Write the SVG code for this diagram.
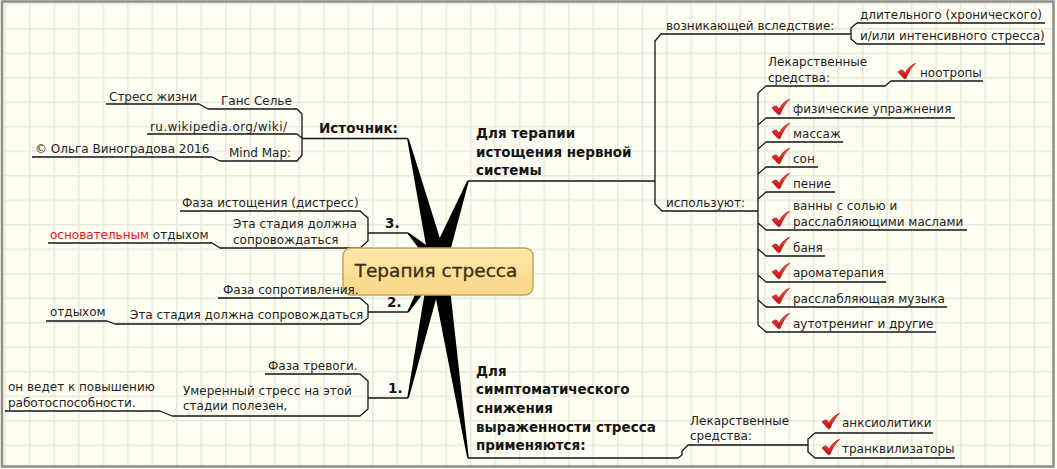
<svg xmlns="http://www.w3.org/2000/svg" width="1057" height="469" viewBox="0 0 1057 469">
<style>
.t{font-family:"DejaVu Sans","Liberation Sans",sans-serif;font-size:12px;fill:#1e1e1e}
.b{font-family:"DejaVu Sans","Liberation Sans",sans-serif;font-size:13.5px;font-weight:bold;fill:#141414}
.red{fill:#d8201c}
.ln{fill:none;stroke:#141414;stroke-width:1.3;stroke-linejoin:round}
.wd{fill:#000}
</style>
<defs>
<pattern id="grid" x="4.5" y="3.5" width="24.5" height="24.5" patternUnits="userSpaceOnUse">
<rect width="24.5" height="24.5" fill="#fefef3"/>
<path d="M0,0.75H24.5M0.75,0V24.5" stroke="#e8e8dc" stroke-width="1.5"/>
</pattern>
<linearGradient id="cg" x1="0" y1="0" x2="0" y2="1">
<stop offset="0" stop-color="#ff5a50"/>
<stop offset="1" stop-color="#c40808"/>
</linearGradient>
<linearGradient id="ng" x1="0" y1="0" x2="0" y2="1">
<stop offset="0" stop-color="#fde7a8"/>
<stop offset="1" stop-color="#f9d887"/>
</linearGradient>
<g id="chk">
<path d="M0,9C1.8,7.2 3.6,6.6 4.8,7.2L7,10.2C9.4,5.6 13,2 17.5,0.3C14.2,3.6 10.6,8.8 8,15.3C7.4,15.9 6.2,15.9 5.6,15.1Z" fill="url(#cg)" stroke="#900" stroke-width="0.6"/>
</g>
</defs>
<rect x="0" y="0" width="1057" height="469" fill="#fefef3"/>
<rect x="2" y="1.5" width="1051.5" height="465" fill="url(#grid)" stroke="#8e8e86" stroke-width="2.5"/>

<g id="connectors">
<polygon class="wd" points="407.2,139.2 408.8,138.8 446.7,259.9 429.3,264.1"/>
<polygon class="wd" points="467.25,180.7 468.75,181.3 446.4,265.1 429.6,258.9"/>
<polygon class="wd" points="467.2,458.1 468.8,457.9 446.9,260.6 429.1,263.4"/>
<polygon class="wd" points="407.44,233.58 408.56,232.42 442.9,257 433.1,267"/>
<polygon class="wd" points="407.31,311.59 408.69,312.41 444,265.6 432,258.4"/>
<polygon class="wd" points="407.22,397.83 408.78,398.17 445.8,263.7 430.2,260.3"/>
<path class="ln" d="M302,138.5H408"/>
<path class="ln" d="M106,104H199L208,109H297L302,114V155L297,161H220L212,157H32"/>
<path class="ln" d="M147,134H297L302,138"/>
<path class="ln" d="M180,211H360L368,218V241L360,248H220L212,243H48"/>
<path class="ln" d="M368,233H408"/>
<path class="ln" d="M218,298H360L368,305V318L360,324H115L107,321H46"/>
<path class="ln" d="M368,312H408"/>
<path class="ln" d="M265,374H360L368,381V409L360,416H172L160,411H5"/>
<path class="ln" d="M368,398H408"/>
<path class="ln" d="M468,181H655"/>
<path class="ln" d="M851,34H661L655,41V204L662,211H758"/>
<path class="ln" d="M857,23L851,28V39L857,44"/>
<path class="ln" d="M857,23H1045M857,44H1045"/>
<path class="ln" d="M758,93V325"/>
<path class="ln" d="M758,93L766,86H877L885,86L891,81H983"/>
<path class="ln" d="M758,125L766,118H955"/>
<path class="ln" d="M758,149L766,142H843"/>
<path class="ln" d="M758,174L766,167H818"/>
<path class="ln" d="M758,199L766,192H835"/>
<path class="ln" d="M758,223L766,230H967"/>
<path class="ln" d="M758,249L766,256H825"/>
<path class="ln" d="M758,275L766,282H886"/>
<path class="ln" d="M758,300L766,307H947"/>
<path class="ln" d="M758,325L766,332H936"/>
<path class="ln" d="M468,458H678L682,455V451L688,445H808"/>
<path class="ln" d="M815,433L808,439V452L815,458"/>
<path class="ln" d="M815,433H933M815,458H955"/>
</g>

<g id="center">
<rect x="343" y="248" width="190" height="47" rx="8" fill="url(#ng)" stroke="#c2a462" stroke-width="1.5"/>
<text x="436" y="277" text-anchor="middle" font-family="DejaVu Sans, sans-serif" font-size="18.5" fill="#3e3019" stroke="#3e3019" stroke-width="0.35">Терапия стресса</text>
</g>

<g id="n-source"><text class="b" x="319" y="133">Источник:</text></g>
<g id="n-selye"><text class="t" x="221" y="105">Ганс Селье</text></g>
<g id="n-selye-book"><text class="t" x="109" y="101">Стресс жизни</text></g>
<g id="n-wiki"><text class="t" x="150" y="131" textLength="137">ru.wikipedia.org/wiki/</text></g>
<g id="n-mindmap"><text class="t" x="229" y="157">Mind Map:</text></g>
<g id="n-author"><text class="t" x="35" y="153">© Ольга Виноградова 2016</text></g>

<g id="n-3"><text class="b" x="385" y="228">3.</text></g>
<g id="n-3-phase"><text class="t" x="182" y="207">Фаза истощения (дистресс)</text></g>
<g id="n-3-stage"><text class="t" x="233" y="228">Эта стадия должна</text><text class="t" x="233" y="244">сопровождаться</text></g>
<g id="n-3-rest"><text class="t" x="50" y="239"><tspan class="red">основательным</tspan> отдыхом</text></g>

<g id="n-2"><text class="b" x="387" y="307">2.</text></g>
<g id="n-2-phase"><text class="t" x="223" y="294">Фаза сопротивления.</text></g>
<g id="n-2-stage"><text class="t" x="130" y="319">Эта стадия должна сопровождаться</text></g>
<g id="n-2-rest"><text class="t" x="50" y="316">отдыхом</text></g>

<g id="n-1"><text class="b" x="388" y="393">1.</text></g>
<g id="n-1-phase"><text class="t" x="268" y="370">Фаза тревоги.</text></g>
<g id="n-1-stage"><text class="t" x="183" y="395">Умеренный стресс на этой</text><text class="t" x="183" y="410">стадии полезен,</text></g>
<g id="n-1-effect"><text class="t" x="8" y="391">он ведет к повышению</text><text class="t" x="8" y="407">работоспособности.</text></g>

<g id="n-exhaust"><text class="b" x="476" y="138">Для терапии</text><text class="b" x="476" y="157">истощения нервной</text><text class="b" x="476" y="175">системы</text></g>
<g id="n-cause"><text class="t" x="666" y="30">возникающей вследствие:</text></g>
<g id="n-chronic"><text class="t" x="860" y="19">длительного (хронического)</text></g>
<g id="n-intense"><text class="t" x="860" y="40">и/или интенсивного стресса)</text></g>
<g id="n-use"><text class="t" x="666" y="207">используют:</text></g>
<g id="n-drugs1"><text class="t" x="768" y="66">Лекарственные</text><text class="t" x="768" y="82">средства:</text></g>
<g id="n-nootrop"><use href="#chk" x="898" y="63"/><text class="t" x="920" y="77">ноотропы</text></g>
<g id="n-exercise"><use href="#chk" x="772" y="99"/><text class="t" x="793" y="113">физические упражнения</text></g>
<g id="n-massage"><use href="#chk" x="772" y="123"/><text class="t" x="793" y="138">массаж</text></g>
<g id="n-sleep"><use href="#chk" x="772" y="148"/><text class="t" x="793" y="163">сон</text></g>
<g id="n-singing"><use href="#chk" x="772" y="173"/><text class="t" x="793" y="188">пение</text></g>
<g id="n-baths"><use href="#chk" x="772" y="211"/><text class="t" x="793" y="210">ванны с солью и</text><text class="t" x="793" y="226">расслабляющими маслами</text></g>
<g id="n-sauna"><use href="#chk" x="772" y="237"/><text class="t" x="793" y="252">баня</text></g>
<g id="n-aroma"><use href="#chk" x="772" y="263"/><text class="t" x="793" y="277">ароматерапия</text></g>
<g id="n-music"><use href="#chk" x="772" y="288"/><text class="t" x="793" y="303">расслабляющая музыка</text></g>
<g id="n-autotrain"><use href="#chk" x="772" y="313"/><text class="t" x="793" y="328">аутотренинг и другие</text></g>

<g id="n-symptom"><text class="b" x="476" y="376">Для</text><text class="b" x="476" y="394">симптоматического</text><text class="b" x="476" y="413">снижения</text><text class="b" x="476" y="432">выраженности стресса</text><text class="b" x="476" y="450">применяются:</text></g>
<g id="n-drugs2"><text class="t" x="690" y="425">Лекарственные</text><text class="t" x="690" y="440">средства:</text></g>
<g id="n-anxio"><use href="#chk" x="822" y="413"/><text class="t" x="842" y="427">анксиолитики</text></g>
<g id="n-tranq"><use href="#chk" x="822" y="439"/><text class="t" x="842" y="453">транквилизаторы</text></g>
</svg>
